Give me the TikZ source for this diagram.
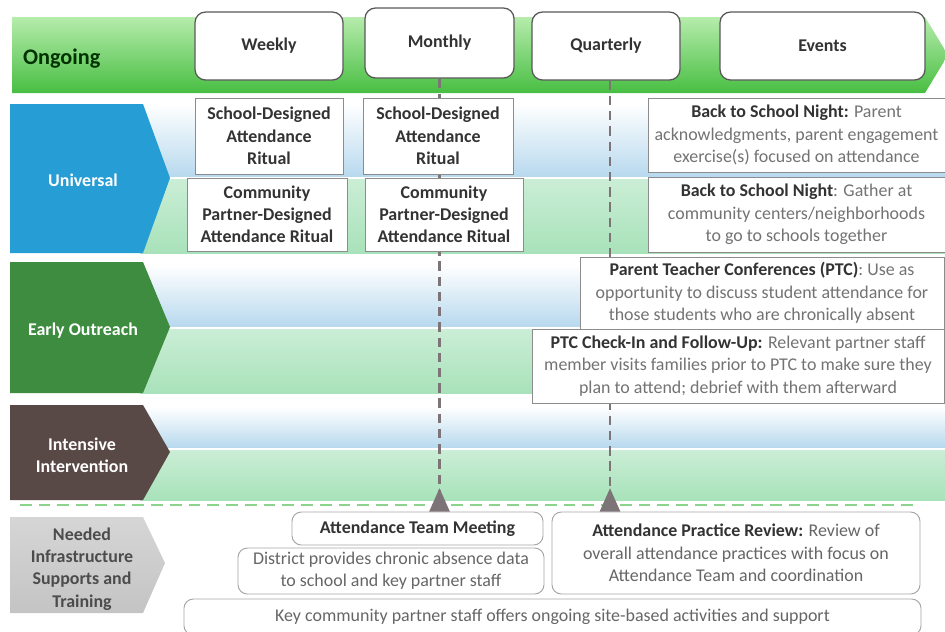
\documentclass[tikz,border=0pt]{standalone}
\usepackage{fontspec}
\setmainfont{Carlito}
\usetikzlibrary{arrows.meta}

\definecolor{unicol}{RGB}{38,157,212}
\definecolor{earlycol}{RGB}{61,140,64}
\definecolor{intencol}{RGB}{88,72,70}
\definecolor{needcol}{RGB}{196,196,196}
\definecolor{dashgray}{RGB}{125,116,120}
\definecolor{dashgreen}{RGB}{140,212,140}
\definecolor{bandblue}{RGB}{184,217,238}
\definecolor{bandgreen}{RGB}{168,226,186}

\newcommand\boxfont{\fontsize{15.3}{19}\selectfont}

\tikzset{
 hdrbox/.style={shape=rectangle,rounded corners=9pt,draw=black!65,line width=1.1pt,fill=white,font=\boxfont\bfseries,text=black!80},
 ritbox/.style={shape=rectangle,draw=black!45,line width=0.8pt,fill=white,align=center,font=\boxfont\bfseries,text=black!80},
 evtbox/.style={shape=rectangle,draw=black!45,line width=0.8pt,fill=white,align=center,font=\boxfont,text=black!55},
 supbox/.style={shape=rectangle,rounded corners=8pt,draw=black!35,line width=0.8pt,fill=white,align=center,font=\boxfont,text=black!60},
 rowlbl/.style={align=center,font=\boxfont\bfseries,text=white},
 timeline/.style={draw=dashgray,line width=2.4pt,dash pattern=on 8pt off 5pt,-{Triangle[reversed,width=17pt,length=20pt,fill=dashgray]}},
}

\newcommand\hl[1]{\textbf{\color{black!80}#1}}

\begin{document}
\begin{tikzpicture}[x=0.03cm,y=-0.03cm]
 \useasboundingbox (0,0) rectangle (945,631);
 % ongoing band
 \path[top color={rgb,255:red,182;green,236;blue,172},bottom color={rgb,255:red,72;green,190;blue,66}]
  (12,17) -- (925,17) -- (948,55) -- (925,93) -- (12,93) -- cycle;
 \node (lbl 0) at (19,59) [anchor=west,font=\fontsize{19}{22}\selectfont\bfseries,text=black!80!green] {Ongoing};
 % row bands
 \path[top color=white,bottom color=bandblue] (140,104) rectangle (945,176);
 \path[top color=bandgreen!60,bottom color=bandgreen] (140,179) rectangle (945,253);
 \path[top color=white,bottom color=bandblue] (140,265) rectangle (945,326);
 \path[top color=bandgreen!60,bottom color=bandgreen] (140,329) rectangle (945,393);
 \path[top color=white,bottom color=bandblue] (140,407) rectangle (945,447);
 \path[top color=bandgreen!60,bottom color=bandgreen] (140,450) rectangle (945,500);
 % row labels
 \path[fill=unicol] (10,104) -- (143,104) -- (170,178) -- (143,253) -- (10,253) -- cycle;
 \path[fill=earlycol] (10,262) -- (143,262) -- (170,327) -- (143,393) -- (10,393) -- cycle;
 \path[fill=intencol] (10,405) -- (143,405) -- (170,452) -- (143,500) -- (10,500) -- cycle;
 \path[top color=needcol!70,bottom color=needcol] (10,517) -- (143,517) -- (165,563) -- (143,613) -- (10,613) -- cycle;
 \node (lbl 1) at (83,180) [rowlbl] {Universal};
 \node (lbl 2) at (83,331) [rowlbl] {Early Outreach};
 \node (lbl 3) at (82,455) [rowlbl] {Intensive\\Intervention};
 \node (lbl 4) at (82,569) [rowlbl,text=black!70] {Needed\\Infrastructure\\Supports and\\Training};
 \draw[dashgreen,line width=2.5pt,dash pattern=on 10pt off 6pt] (20,505) -- (918,505);
 % column heads
 \node (hdr 1) at (269,46) [hdrbox,minimum width=4.44cm,minimum height=2.04cm] {Weekly};
 \node (hdr 2) at (439.5,43) [hdrbox,minimum width=4.47cm,minimum height=2.1cm] {Monthly};
 \node (hdr 3) at (606,46) [hdrbox,minimum width=4.44cm,minimum height=2.04cm] {Quarterly};
 \node (hdr 4) at (822.5,46) [hdrbox,minimum width=6.15cm,minimum height=2.04cm] {Events};
 % supports
 \node (sup 1) at (417.5,528.5) [supbox,font=\boxfont\bfseries,text=black!80,minimum width=7.53cm,minimum height=0.99cm] {Attendance Team Meeting};
 \node (sup 2) at (391,571) [supbox,minimum width=9.18cm,minimum height=1.38cm] {District provides chronic absence data\\to school and key partner staff};
 \node (sup 3) at (736,553) [supbox,minimum width=11.04cm,minimum height=2.46cm] {\hl{Attendance Practice Review:} Review of\\overall attendance practices with focus on\\Attendance Team and coordination};
 \node (sup 4) at (552.5,617) [supbox,minimum width=22.11cm,minimum height=1.08cm] {Key community partner staff offers ongoing site-based activities and support};
 \draw[timeline] (hdr 2.south) -- (hdr 2.south |- sup 1.north);
 \draw[timeline] ([xshift=0.12cm]hdr 3.south) -- ([xshift=0.12cm]hdr 3.south |- sup 3.north);
 % rituals
 \node (rit 1) at (269,136) [ritbox,minimum width=4.44cm,minimum height=2.28cm] {School-Designed\\Attendance\\Ritual};
 \node (rit 2) at (438,136) [ritbox,minimum width=4.5cm,minimum height=2.28cm] {School-Designed\\Attendance\\Ritual};
 \node (rit 3) at (267,214.5) [ritbox,minimum width=4.8cm,minimum height=2.19cm] {Community\\Partner-Designed\\Attendance Ritual};
 \node (rit 4) at (444,214.5) [ritbox,minimum width=4.74cm,minimum height=2.19cm] {Community\\Partner-Designed\\Attendance Ritual};
 % events
 \node (evt 1) at (796.5,135) [evtbox,minimum width=8.91cm,minimum height=2.22cm] {\hl{Back to School Night:} Parent\\acknowledgments, parent engagement\\exercise(s) focused on attendance};
 \node (evt 2) at (796.5,214.5) [evtbox,minimum width=8.91cm,minimum height=2.25cm] {\hl{Back to School Night}: Gather at\\community centers/neighborhoods\\to go to schools together};
 \node (evt 3) at (762,293) [evtbox,minimum width=10.92cm,minimum height=2.16cm] {\hl{Parent Teacher Conferences (PTC)}: Use as\\opportunity to discuss student attendance for\\those students who are chronically absent};
 \node (evt 4) at (738,366) [evtbox,minimum width=12.36cm,minimum height=2.22cm] {\hl{PTC Check-In and Follow-Up:} Relevant partner staff\\member visits families prior to PTC to make sure they\\plan to attend; debrief with them afterward};
\end{tikzpicture}
\end{document}
